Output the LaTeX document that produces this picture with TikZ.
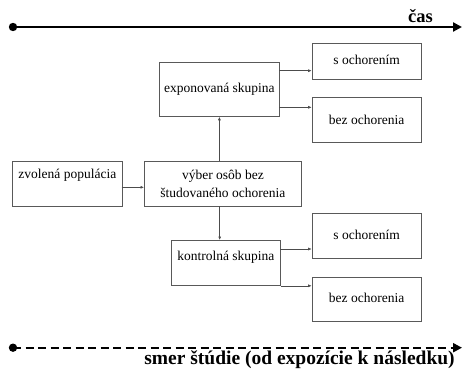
\documentclass[tikz,border=0pt]{standalone}
\usepackage{fontspec}
\setmainfont{Liberation Serif}
\usetikzlibrary{arrows.meta,positioning}
\begin{document}
\begin{tikzpicture}[x=1pt,y=-1pt,
  boxbase/.style={draw=black!65,line width=0.8pt,rectangle,inner sep=0pt,anchor=north west,
    font=\fontsize{13.5}{18.5}\selectfont,align=center},
  box/.style={boxbase,text height=9.5pt,text depth=3pt},
  conn/.style={draw=black!70,line width=0.6pt,-{Latex[length=3.5pt,width=3pt]}},
  axis/.style={line width=2.2pt,-{Triangle[length=9pt,width=9pt]}},
  bigtext/.style={font=\fontsize{19.5}{21}\selectfont\bfseries,inner sep=0pt,anchor=base}]
\useasboundingbox (0,0) rectangle (462,371);
% time axis
\coordinate (t0) at (13,27);
\coordinate (t1) at (462,27);
\draw[axis] (t0) -- (t1);
\fill (t0) circle (4.2pt);
\node[bigtext,font=\fontsize{18.5}{21}\selectfont\bfseries] (cas) at (420.5,23) {čas};
% boxes
\node[box,minimum width=120.6pt,minimum height=53.7pt] (exp) at (158.7,62.3) {exponovaná skupina};
\node[box,minimum width=109pt,minimum height=36pt] (s1) at (311.7,43.3) {s ochorením};
\node[box,minimum width=109pt,minimum height=45pt,text depth=1pt] (b1) at (311.7,97.3) {bez ochorenia};
\node[box,minimum width=109.4pt,minimum height=45.3pt,text height=9pt,text depth=19.6pt] (zv) at (12.3,160.7) {zvolená populácia};
\node[boxbase,minimum width=157pt,minimum height=45.3pt] (vy) at (144,160.7) {výber osôb bez\\študovaného ochorenia};
\node[box,minimum width=109pt,minimum height=45pt,text height=9pt,text depth=14pt] (ko) at (171,240) {kontrolná skupina};
\node[box,minimum width=109pt,minimum height=45pt] (s2) at (311.7,213.3) {s ochorením};
\node[box,minimum width=109pt,minimum height=44pt] (b2) at (311.7,276.7) {bez ochorenia};
% connectors
\coordinate (e1) at (279.3,70.7);
\coordinate (e2) at (279.3,107.3);
\draw[conn] (e1) -- (e1 -| s1.west);
\draw[conn] (e2) -- (e2 -| b1.west);
\coordinate (z1) at (121.7,187.3);
\draw[conn] (z1) -- (z1 -| vy.west);
\draw[conn] (exp.south |- vy.north) -- (exp.south);
\coordinate (vk) at (219.7,206);
\draw[conn] (vk) -- (vk |- ko.north);
\coordinate (k1) at (280,249);
\draw[conn] (k1) -- (k1 -| s2.west);
\draw[conn] (ko.south east) -- (ko.south east -| b2.west);
% study direction axis
\coordinate (d0) at (13,347.7);
\coordinate (d1) at (462,347.7);
\draw[line width=2pt,dash pattern=on 8pt off 4.5pt,-{Triangle[length=9pt,width=9pt]}] (d0) -- (d1);
\fill (d0) circle (4.2pt);
\node[bigtext] (smer) at (299.5,364.7) {smer štúdie (od expozície k následku)};
\end{tikzpicture}
\end{document}
